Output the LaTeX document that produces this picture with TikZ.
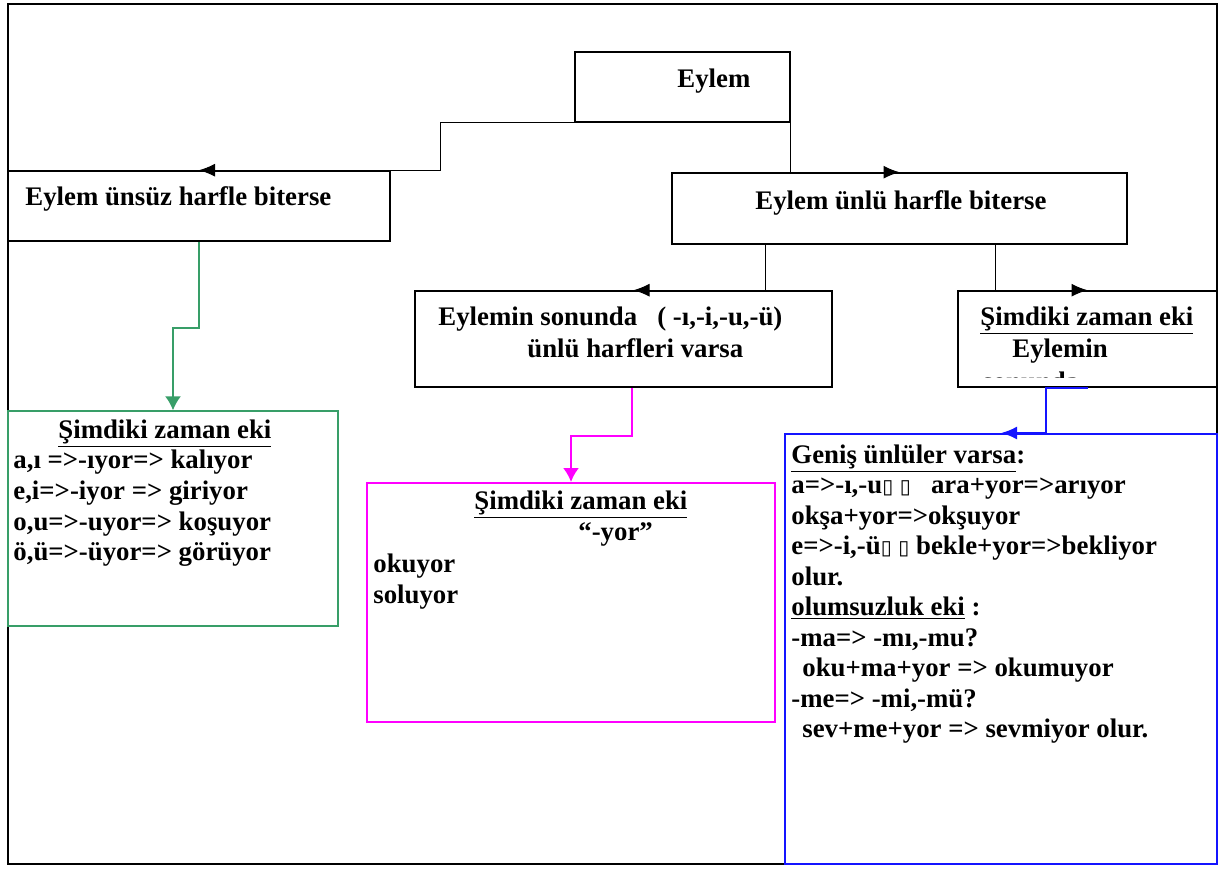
\documentclass[tikz,border=0pt]{standalone}
\usepackage{fontspec}
\setmainfont{Liberation Serif}
\newfontfamily\kutufont{DejaVu Sans}
\usepackage{tikz}
\usetikzlibrary{arrows.meta}
\usetikzlibrary{fit,calc}
\tikzset{>=latex}
\definecolor{yesil}{RGB}{56,158,104}
\definecolor{pembe}{RGB}{255,0,255}
\definecolor{mavi}{RGB}{20,20,255}
\newcommand{\kutu}{{\kutufont\fontsize{10}{10}\selectfont ▯}}
\tikzset{
  box/.style={draw, line width=0.8pt, inner sep=0pt},
  txt/.style={font=\bfseries\fontsize{13.4}{15.3}\selectfont, inner sep=0pt, anchor=base west},
  arr/.style={-{Latex[length=8pt,width=6.5pt]}, line width=0.5pt},
  renkarr/.style={-{Latex[length=7pt,width=8pt]}},
}

\begin{document}
\begin{tikzpicture}[x=0.5pt,y=-0.5pt]
\useasboundingbox (0,0) rectangle (1219,868);

% Frame
\draw[line width=1.2pt] (8,4) rectangle (1217,864);

% Boxes
\node[box, fit={(575,52) (790,122)}] (eylem) {};
\node[box, fit={(8,171) (390,241)}] (unsuz) {};
\node[box, fit={(672,173) (1127,244)}] (unlu) {};
\node[box, fit={(415,291) (832,387)}] (sonunda) {};
\node[box, fit={(958,291) (1217,387)}] (simdi) {};
\node[box, draw=yesil, line width=0.75pt, fit={(8,411) (338,626)}] (yesilbox) {};
\node[box, draw=pembe, line width=1pt, fit={(367,483) (775,722)}] (pembebox) {};
\node[box, draw=mavi, line width=1pt, fit={(785,434) (1217,864)}] (mavibox) {};

% Texts
\node[txt] (eylemT) at (677,87) {Eylem};
\node[txt] (unsuzT) at (25,205) {Eylem ünsüz harfle biterse};
\node[txt] (unluT) at (755,209) {Eylem ünlü harfle biterse};
\node[txt] (sonT1) at (438,325) {Eylemin sonunda \ \ ( -ı,-i,-u,-ü)};
\node[txt] (sonT2) at (527,357) {ünlü harfleri varsa};
\node[txt] (simdiT1) at (980,325) {\underline{Şimdiki zaman eki}};
\node[txt] (simdiT2) at (1012,357) {Eylemin};
\begin{scope}
  \clip (958,291) rectangle (1217,377);
  \node[txt] (simdiT3) at (982,390) {sonunda};
\end{scope}

% Green box
\node[txt] (yesilT) at (58,438) {\underline{Şimdiki zaman eki}};
\foreach \satir [count=\i] in {{a,ı =>-ıyor=> kalıyor},{e,i=>-iyor => giriyor},{o,u=>-uyor=> koşuyor},{ö,ü=>-üyor=> görüyor}}
  \node[txt] (yesil\i) at (13,438+30.7*\i) {\satir};

% Magenta box
\node[txt] (pembeT1) at (474,509) {\underline{Şimdiki zaman eki}};
\node[txt] (pembeT2) at (578,540) {“-yor”};
\node[txt] (pembeT3) at (373,572) {okuyor};
\node[txt] (pembeT4) at (373,603) {soluyor};

% Blue box
\foreach \px/\satir [count=\i] in {
  791/{\underline{Geniş ünlüler varsa}:},
  791/{a=>-ı,-u\kutu\ \kutu\ \ \ ara+yor=>arıyor},
  791/{okşa+yor=>okşuyor},
  791/{e=>-i,-ü\kutu\ \kutu\ bekle+yor=>bekliyor},
  791/{olur.},
  791/{\underline{olumsuzluk eki} :},
  791/{-ma=> -mı,-mu?},
  802/{oku+ma+yor => okumuyor},
  791/{-me=> -mi,-mü?},
  802/{sev+me+yor => sevmiyor olur.}}
  \node[txt] (mavi\i) at (\px,432.5+30.5*\i) {\satir};

% Connectors
\draw[arr] (eylem.south west) -- ++(-134,0) |- (unsuz.north);
\draw[arr] (eylem.south east) |- (unlu.north);
\draw[arr] ($(unlu.south west)+(94,0)$) |- ([xshift=5pt]sonunda.north);
\draw[arr] ($(unlu.south east)+(-132,0)$) |- (simdi.north);
\draw[renkarr, yesil, line width=0.75pt] (unsuz.south) -- ++(0,86) -| (yesilbox.north);
\draw[renkarr, pembe, line width=1pt] ([xshift=4pt]sonunda.south) -- ++(0,48) -| (pembebox.north);
\draw[arr, mavi, line width=1pt] (simdi.south) -- ++(-42,0) |- (mavibox.north);

\end{tikzpicture}
\end{document}
